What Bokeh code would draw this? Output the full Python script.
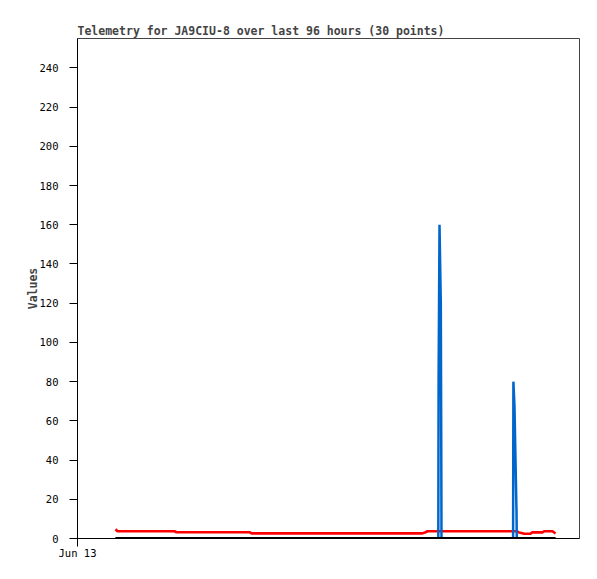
import pandas as pd
from bokeh.plotting import figure
from bokeh.models import FixedTicker, DatetimeTickFormatter, Range1d
from bokeh.embed import file_html
from bokeh.resources import INLINE

# ---- data ----
day = "2024-06-13"
times = ["01:49:00", "01:54:44", "04:38:15", "04:43:59", "08:13:23", "08:19:07",
         "16:29:38", "16:38:15", "16:43:59", "17:14:58", "17:15:49", "17:18:25",
         "17:22:08", "17:23:34", "17:24:08", "20:49:32", "20:50:23", "20:53:33",
         "20:56:25", "20:59:17", "21:00:08", "21:06:28", "21:16:30", "21:20:47",
         "21:39:26", "21:43:45", "22:13:52", "22:19:36", "22:42:33", "22:51:10"]
red_vals = [4.7, 3.7, 3.7, 3.2, 3.2, 2.6, 2.6, 3.2, 3.7, 3.7, 3.7, 3.7, 3.7, 3.7, 3.7,
            3.7, 3.7, 3.7, 3.7, 3.7, 3.7, 3.1, 2.7, 2.4, 2.4, 3.1, 3.1, 3.7, 3.7, 2.5]
blue_vals = [0, 0, 0, 0, 0, 0, 0, 0, 0, 0, 80, 160, 120, 40, 0,
             0, 80, 67, 40, 14, 0, 0, 0, 0, 0, 0, 0, 0, 0, 0]
black_vals = [0] * 30
title_text = "Telemetry for JA9CIU-8 over last 96 hours (30 points)"
y_label = "Values"
y_ticks = list(range(0, 241, 20))

t = pd.to_datetime([f"{day} {s}" for s in times])
start = pd.Timestamp(f"{day} 00:00:00")
end = pd.Timestamp("2024-06-14 00:00:00")

MONO = "DejaVu Sans Mono"

p = figure(width=588, height=570, x_axis_type="datetime",
           output_backend="svg", toolbar_location=None,
           min_border_left=77, min_border_top=38, min_border_right=9, min_border_bottom=32)
p.x_range = Range1d(start, end)
p.y_range = Range1d(0, 255)

p.title.text = title_text
p.title.text_font = MONO
p.title.text_font_size = "11.5px"
p.title.text_font_style = "bold"
p.title.align = "left"
p.title.offset = 0
p.title.standoff = 2

p.xgrid.visible = False
p.ygrid.visible = False
p.outline_line_color = "#444444"
p.outline_line_width = 1
p.background_fill_color = "white"
p.border_fill_color = "white"

p.line(t, red_vals, line_color="#ff0000", line_width=2.6)
p.line(t, blue_vals, line_color="#0066cc", line_width=2.5)
p.line(t, black_vals, line_color="black", line_width=3)

fmt = "%b %d"
p.xaxis.ticker = FixedTicker(ticks=[start.value / 1e6])
p.xaxis.formatter = DatetimeTickFormatter(
    microseconds=fmt, milliseconds=fmt, seconds=fmt, minsec=fmt, minutes=fmt,
    hourmin=fmt, hours=fmt, days=fmt, months=fmt, years=fmt, context=None)
p.yaxis.ticker = FixedTicker(ticks=y_ticks)
p.yaxis.axis_label = y_label

for ax in (p.xaxis[0], p.yaxis[0]):
    ax.axis_line_color = "black"
    ax.major_tick_line_color = "black"
    ax.major_tick_out = 8
    ax.major_tick_in = 0
    ax.minor_tick_line_color = None
    ax.major_label_text_font = MONO
    ax.major_label_text_font_size = "10.5px"
    ax.major_label_text_color = "black"
    ax.axis_label_text_font = MONO
    ax.axis_label_text_font_size = "11.5px"
    ax.axis_label_text_font_style = "bold"

p.xaxis[0].major_label_standoff = 0
p.yaxis[0].major_label_standoff = 11
p.yaxis[0].axis_label_standoff = -3

open("out.html", "w").write(file_html(p, INLINE))
